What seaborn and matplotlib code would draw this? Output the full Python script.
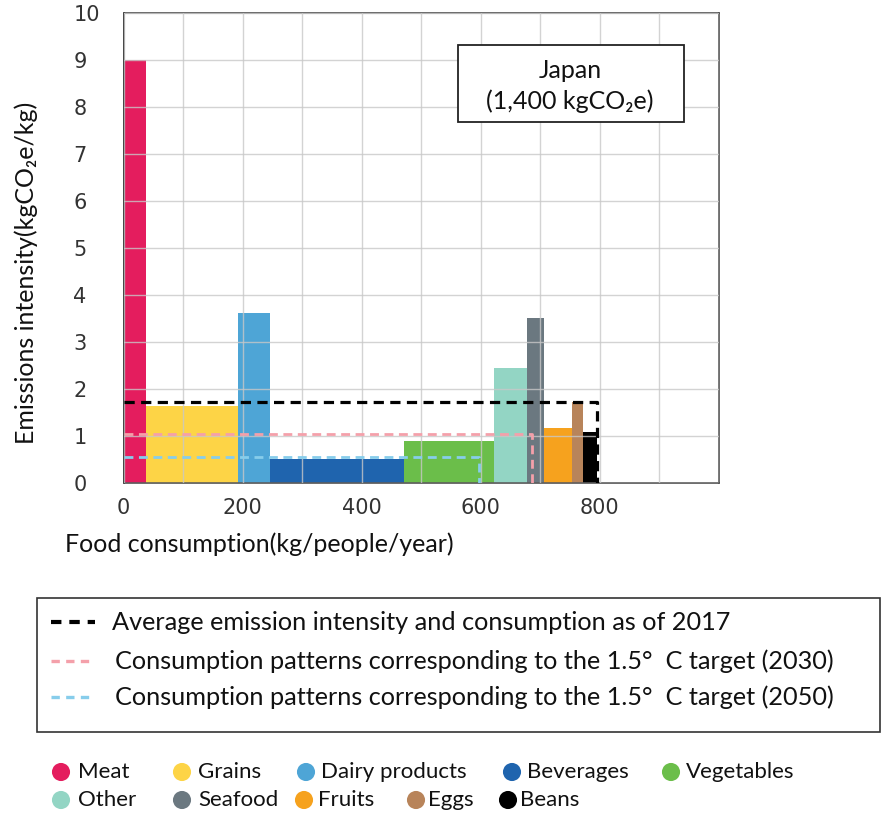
import numpy as np
import pandas as pd
import seaborn as sns
import matplotlib.pyplot as plt
from matplotlib.patches import Rectangle

# food groups, consumption (kg/people/year) and emission intensity (kgCO2e/kg)
categories = ['Meat', 'Grains', 'Dairy products', 'Beverages', 'Vegetables',
              'Other', 'Seafood', 'Fruits', 'Eggs', 'Beans']
consumption = [38, 155, 54, 225, 151, 55, 29, 47, 18, 24]
intensity = [9.0, 1.63, 3.62, 0.51, 0.89, 2.44, 3.5, 1.16, 1.72, 1.09]
colors = ['#E41D5E', '#FDD446', '#4EA5D6', '#1F64AE', '#6BBE4A',
          '#93D5C4', '#6B7880', '#F6A21E', '#B8845A', '#000000']

# scenario outlines: (average intensity, total consumption)
scen_names = ['Average emission intensity and consumption as of 2017',
              'Consumption patterns corresponding to the 1.5°  C target (2030)',
              'Consumption patterns corresponding to the 1.5°  C target (2050)']
scen_intensity = [1.72, 1.04, 0.56]
scen_consumption = [796, 686, 597]
scen_colors = ['#000000', '#F4A0AA', '#87CDEB']

x_ticks = list(range(0, 1001, 100))
x_labels = ['0', '', '200', '', '400', '', '600', '', '800', '', '']
y_ticks = list(range(0, 11))

sns.set_style('ticks')
plt.rcParams['font.family'] = ['Lato', 'DejaVu Sans']

edges = [0.0] + [float(v) for v in np.cumsum(consumption)]
df = pd.DataFrame({'category': categories,
                   'mid': [(a + b) / 2 for a, b in zip(edges[:-1], edges[1:])],
                   'intensity': intensity})

fig = plt.figure(figsize=(8.82, 8.13), dpi=100)
ax = fig.add_axes([123.5 / 882, 1 - 483 / 813, 595 / 882, 470 / 813])

sns.histplot(data=df, x='mid', weights='intensity', bins=edges, hue='category',
             hue_order=categories, palette=dict(zip(categories, colors)),
             multiple='layer', alpha=1, linewidth=0, legend=False, ax=ax)

for yv, xv, c in zip(scen_intensity, scen_consumption, scen_colors):
    lw = 2.3 if c == '#000000' else 2.0
    ax.plot([0, xv, xv], [yv, yv, 0], color=c, lw=lw, dashes=(3.2, 2.0),
            zorder=4, solid_capstyle='butt', dash_capstyle='butt')

ax.set_xlim(0, 1000)
ax.set_ylim(0, 10)
ax.set_xticks(x_ticks)
ax.set_xticklabels(x_labels)
ax.set_yticks(y_ticks)
ax.set_axisbelow(False)
ax.grid(True, color='#C8C8C8', lw=1, alpha=0.8)
ax.tick_params(length=0, labelsize=15, colors='#333333')
ax.tick_params(axis='x', pad=11)
ax.tick_params(axis='y', pad=36)
for t in ax.get_yticklabels():
    t.set_horizontalalignment('left')
for t in ax.get_xticklabels() + ax.get_yticklabels():
    t.set_family('DejaVu Sans')
for s in ax.spines.values():
    s.set_visible(True)
    s.set_color('#444444')
    s.set_linewidth(1.1)
ax.spines['left'].set_color('#111111')

ax.set_xlabel('Food consumption(kg/people/year)', fontsize=18, color='#111111')
ax.xaxis.set_label_coords(0.229, -0.106)
ax.set_ylabel('Emissions intensity(kgCO\u2082e/kg)', fontsize=18, color='#111111')
ax.yaxis.set_label_coords(-0.143, 0.447)

# overlay in pixel coordinates for the boxes and legends
ov = fig.add_axes([0, 0, 1, 1])
ov.set_xlim(0, 882)
ov.set_ylim(813, 0)
ov.axis('off')

ov.add_patch(Rectangle((457.5, 45), 226.5, 77, facecolor='white',
                       edgecolor='#222222', lw=1.3, zorder=3))
ov.text(570, 70, 'Japan', ha='center', va='center', fontsize=18, color='#111111', zorder=4)
ov.text(570, 101, '(1,400 kgCO\u2082e)', ha='center', va='center', fontsize=18,
        color='#111111', zorder=4)

ov.add_patch(Rectangle((37, 598), 843, 134, facecolor='none',
                       edgecolor='#333333', lw=1.2))
row_y = [622, 661, 697]
text_x = [112, 115, 115]
for name, c, yy, tx in zip(scen_names, scen_colors, row_y, text_x):
    lw = 3.0 if c == '#000000' else 2.4
    ov.plot([51, 95], [yy, yy], color=c, lw=lw, dashes=(2.5, 1.9))
    ov.text(tx, yy, name, ha='left', va='center', fontsize=18.2, color='#111111')

# category legend (two rows)
leg_marker_x = [61, 182, 306, 512, 671, 61, 182, 304, 416, 508]
leg_text_x = [78, 198, 321, 527, 686, 78, 198, 318, 428, 520]
leg_y = [772] * 5 + [800] * 5
ov.scatter(leg_marker_x, leg_y, s=170, c=colors, linewidths=0)
for name, tx, yy in zip(categories, leg_text_x, leg_y):
    ov.text(tx, yy, name, ha='left', va='center', fontsize=16, color='#111111')

fig.savefig('out.png', dpi=100)
